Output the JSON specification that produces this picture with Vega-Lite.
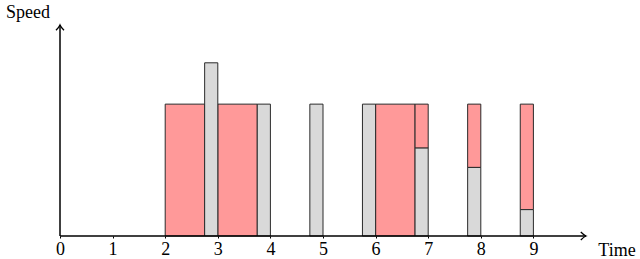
{
  "$schema": "https://vega.github.io/schema/vega-lite/v6.json",
  "width": 526,
  "height": 211,
  "padding": {"left": 60, "top": 25, "right": 54, "bottom": 23},
  "autosize": "none",
  "background": "white",
  "config": {"view": {"stroke": null}},
  "datasets": {
    "bars": [
      {"t0": 2, "t1": 2.75, "s0": 0, "s1": 1.5, "kind": "red"},
      {"t0": 3, "t1": 3.75, "s0": 0, "s1": 1.5, "kind": "red"},
      {"t0": 6, "t1": 6.75, "s0": 0, "s1": 1.5, "kind": "red"},
      {"t0": 6.75, "t1": 7, "s0": 1, "s1": 1.5, "kind": "red"},
      {"t0": 7.75, "t1": 8, "s0": 0.78, "s1": 1.5, "kind": "red"},
      {"t0": 8.75, "t1": 9, "s0": 0.3, "s1": 1.5, "kind": "red"},
      {"t0": 2.75, "t1": 3, "s0": 0, "s1": 1.97, "kind": "gray"},
      {"t0": 3.75, "t1": 4, "s0": 0, "s1": 1.5, "kind": "gray"},
      {"t0": 4.75, "t1": 5, "s0": 0, "s1": 1.5, "kind": "gray"},
      {"t0": 5.75, "t1": 6, "s0": 0, "s1": 1.5, "kind": "gray"},
      {"t0": 6.75, "t1": 7, "s0": 0, "s1": 1, "kind": "gray"},
      {"t0": 7.75, "t1": 8, "s0": 0, "s1": 0.78, "kind": "gray"},
      {"t0": 8.75, "t1": 9, "s0": 0, "s1": 0.3, "kind": "gray"}
    ],
    "axes": [
      {"t0": 0, "t1": 10, "s0": 0, "s1": 0, "dir": "x"},
      {"t0": 0, "t1": 0, "s0": 0, "s1": 2.4, "dir": "y"}
    ],
    "heads": [
      {"t": 10, "s": 0, "ang": 0},
      {"t": 0, "s": 2.4, "ang": -90}
    ],
    "labels": [
      {"t": -0.61, "s": 2.54, "text": "Speed"},
      {"t": 10.59, "s": -0.17, "text": "Time"}
    ]
  },
  "layer": [
    {
      "data": {"name": "bars"},
      "mark": {"type": "rect", "stroke": "#2a2a2a", "strokeWidth": 1},
      "encoding": {
        "x": {"field": "t0", "type": "quantitative", "scale": {"domain": [0, 10], "nice": false},
          "axis": {"values": [0,1,2,3,4,5,6,7,8,9], "domain": false, "grid": false, "title": null,
            "tickSize": 2, "tickColor": "black", "labelFont": "Liberation Serif", "labelFontSize": 18,
            "labelColor": "black", "labelPadding": 2, "labelFlush": false}},
        "x2": {"field": "t1"},
        "y": {"field": "s0", "type": "quantitative", "scale": {"domain": [0, 2.4], "nice": false}, "axis": null},
        "y2": {"field": "s1"},
        "fill": {"field": "kind", "type": "nominal", "scale": {"domain": ["red", "gray"], "range": ["#ff9999", "#d9d9d9"]}, "legend": null}
      }
    },
    {
      "data": {"name": "axes"},
      "mark": {"type": "rule", "color": "black", "strokeWidth": 1.5},
      "encoding": {
        "x": {"field": "t0", "type": "quantitative"},
        "x2": {"field": "t1"},
        "y": {"field": "s0", "type": "quantitative"},
        "y2": {"field": "s1"}
      }
    },
    {
      "data": {"name": "heads"},
      "mark": {"type": "point", "shape": "M-1.3,-1 Q-0.5,-0.2 0,0 Q-0.5,0.2 -1.3,1", "filled": false, "stroke": "black", "strokeWidth": 1.3, "size": 64, "opacity": 1},
      "encoding": {
        "x": {"field": "t", "type": "quantitative"},
        "y": {"field": "s", "type": "quantitative"},
        "angle": {"field": "ang", "type": "quantitative", "scale": null}
      }
    },
    {
      "data": {"name": "labels"},
      "mark": {"type": "text", "font": "Liberation Serif", "fontSize": 18, "color": "black"},
      "encoding": {
        "x": {"field": "t", "type": "quantitative"},
        "y": {"field": "s", "type": "quantitative"},
        "text": {"field": "text"}
      }
    }
  ]
}
